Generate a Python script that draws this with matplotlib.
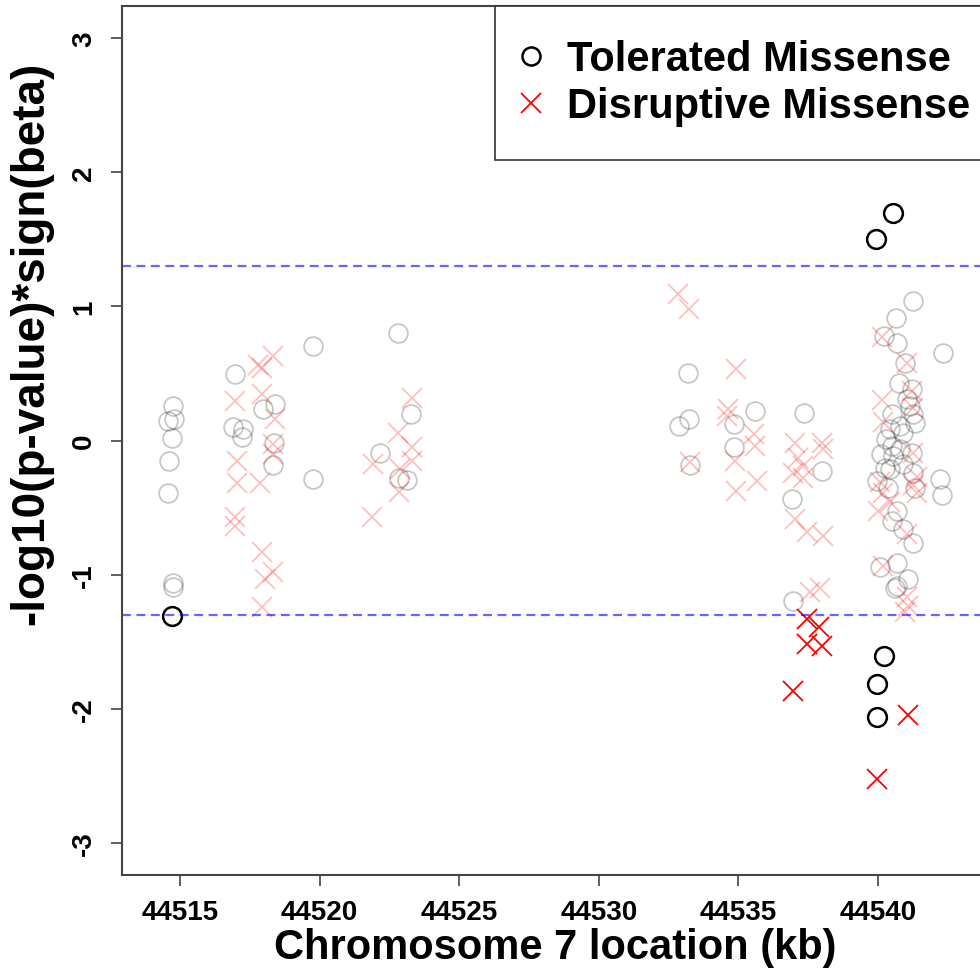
import numpy as np
import matplotlib
matplotlib.use("Agg")
import matplotlib.pyplot as plt
from matplotlib.lines import Line2D

plt.rcParams['font.family'] = ['Liberation Sans', 'DejaVu Sans']
plt.rcParams['font.weight'] = 'bold'

# tolerated missense (open circles), position in kb and -log10(p)*sign(beta)
tol_x = [44514.76, 44514.58, 44514.78, 44514.70, 44514.62, 44514.58, 44514.74, 44514.76, 44514.70,
         44516.97, 44516.91, 44517.27, 44517.21, 44517.98, 44518.40, 44518.37, 44518.34,
         44519.75, 44519.75, 44522.82, 44523.26, 44522.17, 44522.85, 44523.14,
         44533.21, 44533.24, 44532.86, 44533.27,
         44534.86, 44534.84, 44535.61,
         44537.36, 44538.00, 44536.93, 44536.94,
         44541.24, 44540.64, 44540.23, 44540.67, 44542.32, 44540.97, 44540.76, 44541.21,
         44541.03, 44541.15, 44540.49, 44541.26, 44541.32, 44540.79, 44540.43, 44540.91,
         44540.30, 44540.49, 44540.79, 44541.21, 44540.12, 44540.55, 44540.91, 44540.25,
         44540.43, 44541.26, 44542.22, 44539.95, 44540.37, 44541.32, 44542.28, 44540.67,
         44540.49, 44540.91, 44541.26, 44540.67, 44540.07, 44541.08, 44540.67, 44540.61,
         44539.92, 44540.53, 44540.23, 44539.98, 44539.98]
tol_y = [0.258, 0.146, 0.164, 0.022, -0.152, -0.388, -1.066, -1.089, -1.31,
         0.494, 0.104, 0.089, 0.029, 0.233, 0.270, -0.015, -0.184,
         0.705, -0.284, 0.802, 0.199, -0.090, -0.280, -0.293,
         0.501, 0.158, 0.108, -0.184,
         0.121, -0.047, 0.220,
         0.203, -0.227, -0.433, -1.194,
         1.040, 0.916, 0.779, 0.730, 0.655, 0.581, 0.427, 0.382,
         0.307, 0.258, 0.196, 0.196, 0.134, 0.108, 0.084, 0.059,
         0.009, -0.041, -0.065, -0.090, -0.102, -0.115, -0.177, -0.202,
         -0.214, -0.239, -0.289, -0.301, -0.351, -0.351, -0.408, -0.525,
         -0.600, -0.661, -0.761, -0.910, -0.947, -1.034, -1.084, -1.100,
         1.506, 1.697, -1.606, -1.813, -2.063]

# disruptive missense (crosses)
dis_x = [44518.34, 44517.93, 44517.79, 44516.97, 44517.93, 44518.40, 44518.34, 44518.34,
         44517.03, 44517.03, 44517.86, 44516.97, 44516.97, 44517.93, 44518.34, 44518.04, 44517.93,
         44523.32, 44522.82, 44523.30, 44523.30, 44521.92, 44522.88, 44522.86, 44521.88,
         44532.85, 44533.24, 44533.28,
         44534.91, 44534.64, 44534.58, 44534.88, 44534.90, 44535.56, 44535.59, 44535.66,
         44537.03, 44537.98, 44538.03, 44537.15, 44537.32, 44536.97, 44537.32,
         44537.03, 44537.45, 44538.04, 44537.56, 44537.92,
         44537.45, 44537.90, 44537.47, 44537.98, 44536.97,
         44540.13, 44541.03, 44540.13, 44541.22, 44541.25, 44540.17, 44541.26, 44541.39,
         44541.25, 44540.07, 44540.18, 44540.42, 44540.00, 44541.39, 44541.03, 44540.18,
         44541.03, 44541.08, 44540.96,
         44541.08, 44539.97]
dis_y = [0.630, 0.544, 0.561, 0.295, 0.345, 0.158, -0.028, -0.102,
         -0.152, -0.319, -0.319, -0.572, -0.639, -0.835, -0.984, -1.034, -1.245,
         0.320, 0.059, -0.047, -0.152, -0.177, -0.214, -0.382, -0.574,
         1.094, 0.983, -0.164,
         0.531, 0.233, 0.183, -0.152, -0.376, 0.047, -0.041, -0.301,
         -0.015, -0.020, -0.065, -0.127, -0.190, -0.239, -0.276,
         -0.587, -0.686, -0.711, -1.133, -1.103,
         -1.332, -1.387, -1.519, -1.531, -1.867,
         0.770, 0.580, 0.300, 0.367, 0.240, 0.136, -0.090, -0.274,
         -0.334, -0.313, -0.388, -0.462, -0.525, -0.388, -0.699, -0.937,
         -1.168, -1.232, -1.280,
         -2.044, -2.525]

thresh = -np.log10(0.05)

tol_x = np.array(tol_x); tol_y = np.array(tol_y)
dis_x = np.array(dis_x); dis_y = np.array(dis_y)
tol_sig = np.abs(tol_y) > thresh
dis_sig = np.abs(dis_y) > thresh

fig = plt.figure(figsize=(9.8, 9.79), dpi=100)
# plot region runs a little past the right edge of the picture (cropped like the original)
ax = fig.add_axes([122/980, 1 - 876/979, 881/980, 869/979])

ax.plot(tol_x[~tol_sig], tol_y[~tol_sig], 'o', mfc='none', mec='black', alpha=0.22, ms=13.5, mew=1.3, ls='none')
ax.plot(dis_x[~dis_sig], dis_y[~dis_sig], 'x', color='red', alpha=0.25, ms=14.5, mew=1.3, ls='none')
ax.plot(tol_x[tol_sig], tol_y[tol_sig], 'o', mfc='none', mec='black', ms=13.5, mew=1.8, ls='none')
ax.plot(dis_x[dis_sig], dis_y[dis_sig], 'x', color='red', ms=14.5, mew=1.3, ls='none')

for h in (thresh, -thresh):
    ax.axhline(h, color='blue', alpha=0.6, lw=1.6, ls=(0, (4, 2.5)))

ax.set_xlim(44512.92, 44544.48)
ax.set_ylim(-3.24, 3.24)
ax.set_xticks([44515, 44520, 44525, 44530, 44535, 44540])
ax.set_xticklabels(['44515', '44520', '44525', '44530', '44535', '44540'])
ax.set_yticks([-3, -2, -1, 0, 1, 2, 3])
ax.set_yticklabels(['-3', '-2', '-1', '0', '1', '2', '3'])

for s in ax.spines.values():
    s.set_color('#444444')
    s.set_linewidth(1.5)
ax.tick_params(axis='both', length=8, width=1.2, color='#444444', labelsize=20)
ax.tick_params(axis='x', pad=9)
ax.tick_params(axis='y', pad=10)
for lbl in ax.get_yticklabels():
    lbl.set_rotation(90)
    lbl.set_va('center')

ax.set_xlabel('Chromosome 7 location (kb)', fontsize=30, fontweight='bold')
ax.set_ylabel('-log10(p-value)*sign(beta)', fontsize=33, fontweight='bold')
ax.xaxis.set_label_coords(0.4915, -0.06)
ax.yaxis.set_label_coords(-0.078, 0.613)

handles = [Line2D([], [], marker='o', mfc='none', mec='black', ms=13, mew=1.8, ls='none'),
           Line2D([], [], marker='x', color='red', ms=14, mew=1.3, ls='none')]
leg = ax.legend(handles, ['Tolerated Missense', 'Disruptive Missense'], loc='upper right',
                bbox_to_anchor=(1, 1), borderaxespad=0, fancybox=False, framealpha=1,
                edgecolor='#333333', borderpad=0.8, handlelength=0.15, handletextpad=0.77,
                labelspacing=0.17, prop={'size': 30, 'weight': 'bold'})
leg.get_frame().set_linewidth(1.2)

fig.savefig('out.png', dpi=100)
